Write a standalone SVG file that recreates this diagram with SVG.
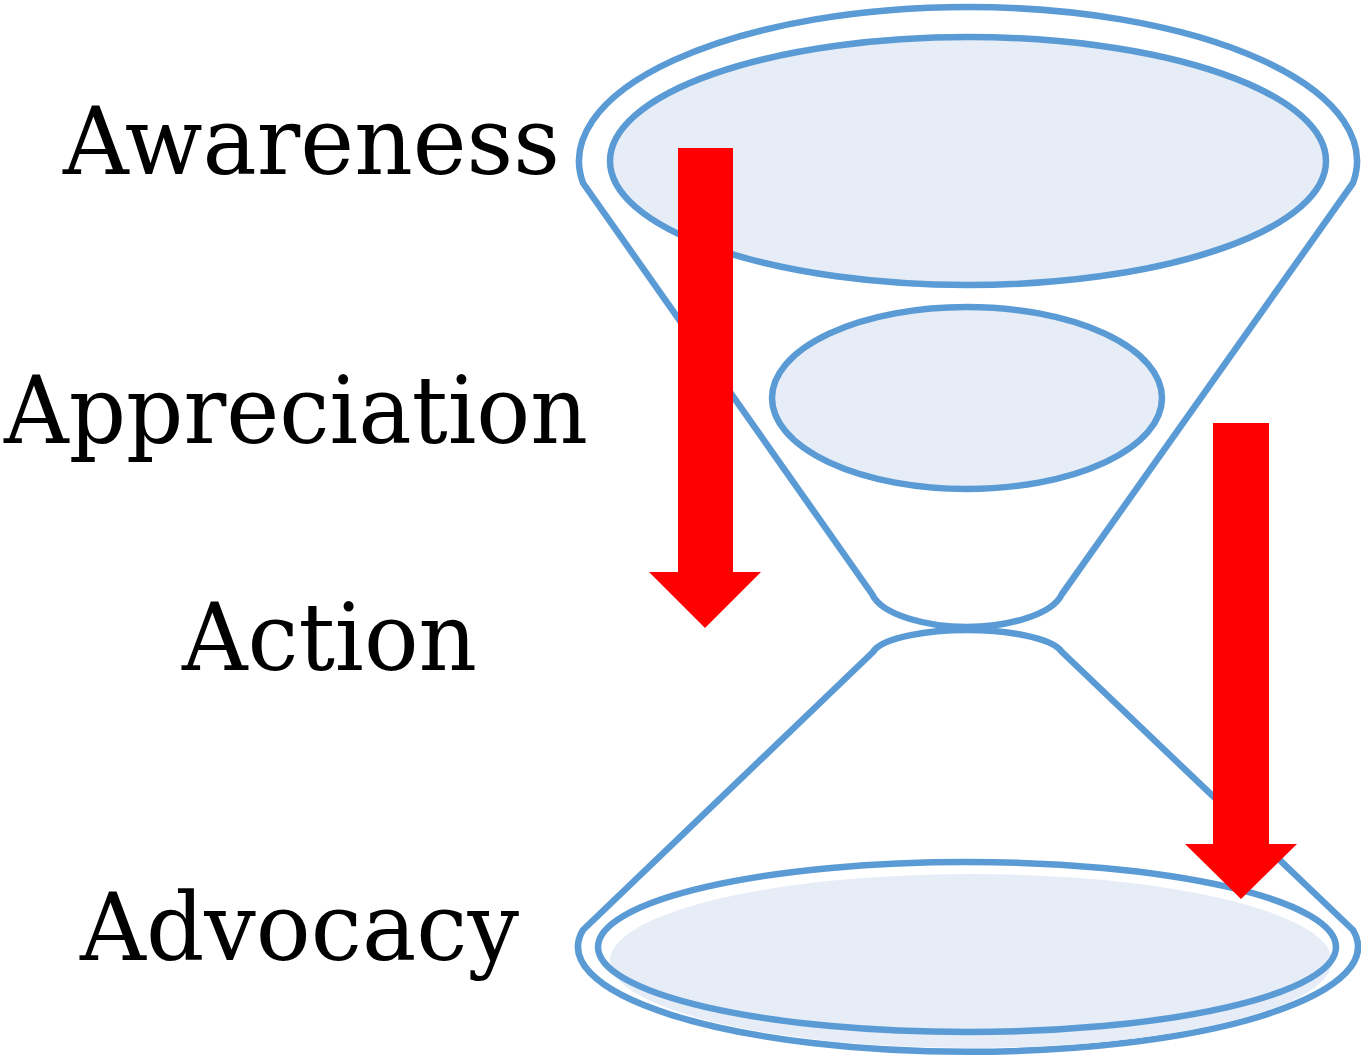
<svg xmlns="http://www.w3.org/2000/svg" width="1361" height="1057" viewBox="0 0 1361 1057">
<style>
.ln{fill:none;stroke:#5B9BD5;stroke-width:6.5;stroke-linejoin:round}
.fl{fill:#E6EDF7;stroke:#5B9BD5;stroke-width:6.5}
.lbl{font-family:"DejaVu Serif","Liberation Serif",serif;font-size:94px;fill:#000}
.arr{fill:#FF0000}
</style>
<rect width="1361" height="1057" fill="#FFFFFF"/>
<g id="funnel-top">
<path class="ln" d="M583,183 A389,154 0 1 1 1353,183 L1062,594 C1052,616 1004,627 967,627 C930,627 882,616 872,594 Z"/>
<ellipse id="awareness-disc" class="fl" cx="968" cy="161" rx="358" ry="124"/>
<ellipse id="appreciation-disc" class="fl" cx="967" cy="398" rx="195" ry="91"/>
</g>
<g id="funnel-bottom">
<path class="ln" d="M873,652 C882,637 930,630 967,630 C1004,630 1052,637 1062,652 L1353,930 A390,105 0 1 1 583,930 Z"/>
<ellipse fill="#E6EDF7" cx="971" cy="961" rx="361" ry="87"/>
<ellipse id="advocacy-disc" fill="none" stroke="#5B9BD5" stroke-width="6.5" cx="967" cy="947" rx="369" ry="85"/>
</g>
<g id="labels">
<text id="awareness" class="lbl" x="63" y="174" textLength="497" lengthAdjust="spacingAndGlyphs">Awareness</text>
<text id="appreciation" class="lbl" x="4" y="443" textLength="584" lengthAdjust="spacingAndGlyphs">Appreciation</text>
<text id="action" class="lbl" x="182" y="670" textLength="295" lengthAdjust="spacingAndGlyphs">Action</text>
<text id="advocacy" class="lbl" x="80" y="960" textLength="439" lengthAdjust="spacingAndGlyphs">Advocacy</text>
</g>
<g id="connectors">
<polygon class="arr" points="678,148 733,148 733,572 761,572 705,628 649,572 678,572"/>
<polygon class="arr" points="1213,423 1269,423 1269,844 1297,844 1241,899 1185,844 1213,844"/>
</g>
</svg>
